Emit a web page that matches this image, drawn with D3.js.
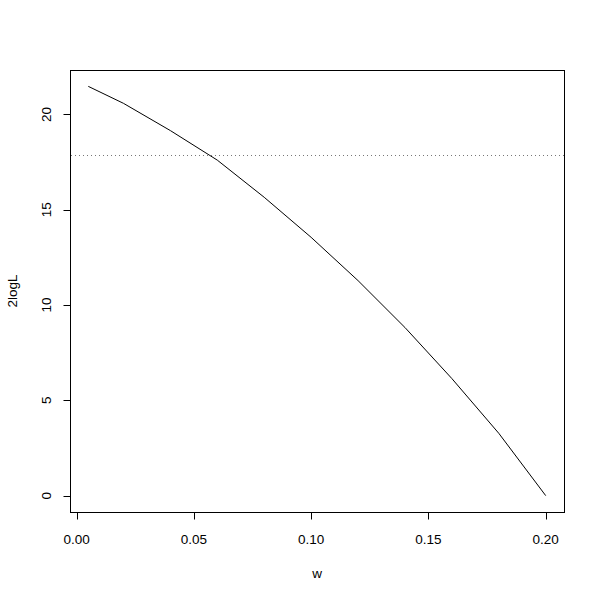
<!DOCTYPE html>
<html>
<head>
<meta charset="utf-8">
<script src="https://cdn.jsdelivr.net/npm/d3@7"></script>
<style>
body { margin: 0; background: #fff; }
text { font-family: "Liberation Sans", Arial, sans-serif; font-size: 13.5px; fill: #000; }
</style>
</head>
<body>
<svg width="600" height="600"></svg>
<script>
// w values and 2logL
var wVals = [0.005, 0.02, 0.04, 0.06, 0.08, 0.10, 0.12, 0.14, 0.16, 0.18, 0.20];
var logL2 = [21.47, 20.58, 19.15, 17.6, 15.65, 13.55, 11.28, 8.82, 6.14, 3.27, 0];
var cutoff = 17.85;
var xTicks = [0, 0.05, 0.10, 0.15, 0.20];
var yTicks = [0, 5, 10, 15, 20];

var svg = d3.select("svg");
var mLeft = 70, mRight = 564, mTop = 70, mBottom = 512;

// R style 4% padding on data range
var xr = d3.extent(wVals), yr = d3.extent(logL2);
var xp = (xr[1] - xr[0]) * 0.04, yp = (yr[1] - yr[0]) * 0.04;
var x = d3.scaleLinear().domain([xr[0] - xp, xr[1] + xp]).range([mLeft, mRight]);
var y = d3.scaleLinear().domain([yr[0] - yp, yr[1] + yp]).range([mBottom, mTop]);

svg.append("rect")
    .attr("x", mLeft + 0.5).attr("y", mTop + 0.5)
    .attr("width", mRight - mLeft).attr("height", mBottom - mTop)
    .attr("fill", "none").attr("stroke", "#000");

// x axis
var xa = svg.append("g").attr("transform", "translate(0," + (mBottom + 0.5) + ")");
xa.append("line").attr("x1", x(0.2)).attr("x2", x(0)).attr("stroke", "#000");
xa.selectAll(".t").data(xTicks).enter().append("line")
    .attr("x1", function (d) { return Math.round(x(d)) + 0.5; })
    .attr("x2", function (d) { return Math.round(x(d)) + 0.5; })
    .attr("y1", 0).attr("y2", 7).attr("stroke", "#000");
xa.selectAll("text").data(xTicks).enter().append("text")
    .attr("x", function (d) { return x(d); }).attr("y", 31)
    .attr("text-anchor", "middle")
    .text(function (d) { return d3.format(".2f")(d); });

// y axis
var ya = svg.append("g").attr("transform", "translate(" + (mLeft + 0.5) + ",0)");
ya.append("line").attr("y1", y(0)).attr("y2", y(20)).attr("stroke", "#000");
ya.selectAll(".t").data(yTicks).enter().append("line")
    .attr("y1", function (d) { return Math.round(y(d)) + 0.5; })
    .attr("y2", function (d) { return Math.round(y(d)) + 0.5; })
    .attr("x1", 0).attr("x2", -7).attr("stroke", "#000");
ya.selectAll("text").data(yTicks).enter().append("text")
    .attr("transform", function (d) { return "translate(-20," + y(d) + ") rotate(-90)"; })
    .attr("text-anchor", "middle")
    .text(function (d) { return d; });

// axis titles
svg.append("text").attr("x", (mLeft + mRight) / 2).attr("y", 578)
    .attr("text-anchor", "middle").text("w");
svg.append("text").attr("transform", "translate(17," + (mTop + mBottom) / 2 + ") rotate(-90)")
    .attr("text-anchor", "middle").text("2logL");

// cutoff line (dotted, looks grey in the original)
svg.append("line")
    .attr("x1", mLeft + 1).attr("x2", mRight)
    .attr("y1", Math.round(y(cutoff)) + 0.5).attr("y2", Math.round(y(cutoff)) + 0.5)
    .attr("stroke", "#777").attr("stroke-dasharray", "1,3");

var line = d3.line()
    .x(function (d, i) { return x(wVals[i]); })
    .y(function (d) { return y(d); });

svg.append("path").datum(logL2)
    .attr("d", line)
    .attr("fill", "none").attr("stroke", "#000").attr("stroke-width", 1);
</script>
</body>
</html>
